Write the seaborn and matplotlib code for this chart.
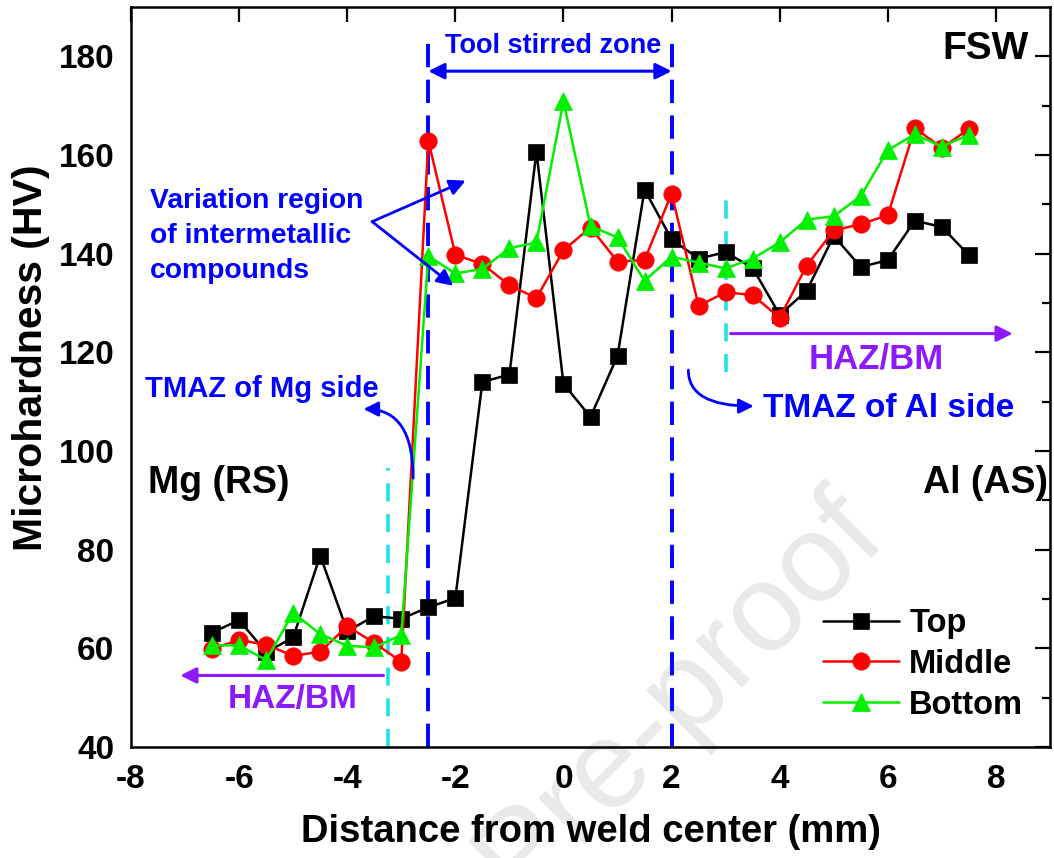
import matplotlib
matplotlib.use("Agg")
import matplotlib.pyplot as plt
import seaborn as sns
import numpy as np
import pandas as pd

# ---- data ----
distance = [-6.5, -6, -5.5, -5, -4.5, -4, -3.5, -3, -2.5, -2, -1.5, -1, -0.5, 0,
            0.5, 1, 1.5, 2, 2.5, 3, 3.5, 4, 4.5, 5, 5.5, 6, 6.5, 7, 7.5]

hv_top = [63.2, 65.7, 59.2, 62.2, 78.8, 63.5, 66.5, 66.0, 68.3, 70.2, 114.0, 115.5, 160.7, 113.6,
          106.9, 119.3, 153.0, 142.9, 139.0, 140.3, 137.1, 127.6, 132.5, 143.6, 137.3, 138.7, 146.7, 145.4, 139.7]

hv_middle = [59.9, 61.7, 60.7, 58.5, 59.3, 64.5, 61.1, 57.3, 162.9, 139.8, 137.9, 133.6, 131.0, 140.7,
             145.3, 138.4, 138.7, 152.2, 129.4, 132.2, 131.6, 127.0, 137.6, 144.7, 146.0, 147.8, 165.5, 161.4, 165.3]

hv_bottom = [60.6, 60.6, 57.6, 67.2, 62.9, 60.5, 60.2, 62.7, 139.5, 136.0, 136.9, 141.1, 142.3, 170.9,
             145.6, 143.3, 134.5, 139.4, 138.2, 137.0, 139.0, 142.3, 146.9, 147.6, 151.7, 161.0, 164.2, 161.7, 164.1]

series_names = ["Top", "Middle", "Bottom"]
series_colors = {"Top": "black", "Middle": "#ff0000", "Bottom": "#00f000"}
series_markers = {"Top": "s", "Middle": "o", "Bottom": "^"}
series_msize = {"Top": 11.5, "Middle": 12.5, "Bottom": 13}

df = pd.DataFrame({
    "Distance": distance * 3,
    "HV": hv_top + hv_middle + hv_bottom,
    "Position": sum([[n] * len(distance) for n in series_names], []),
})

# ---- style ----
sns.set_style("white")
plt.rcParams["font.family"] = ["Liberation Sans", "DejaVu Sans"]
plt.rcParams["font.weight"] = "bold"
plt.rcParams["axes.labelweight"] = "bold"
plt.rcParams["axes.unicode_minus"] = False
for k in ["text.color", "axes.labelcolor", "xtick.color", "ytick.color"]:
    plt.rcParams[k] = "black"

fig = plt.figure(figsize=(10.54, 8.58), dpi=100)
ax = fig.add_axes([0.1243, 0.1294, 0.9962 - 0.1243, 0.9918 - 0.1294])

for name in series_names:
    sub = df[df["Position"] == name]
    sns.lineplot(data=sub, x="Distance", y="HV", ax=ax, color=series_colors[name],
                 marker=series_markers[name], markersize=series_msize[name],
                 markeredgecolor=series_colors[name], markeredgewidth=0.5,
                 linewidth=1.8, label=name)

# zone boundaries
blue = "#0000ff"
ax.vlines([-2.5, 2.0], 40, 184, colors=blue, linewidth=2.8, linestyles=(0, (6, 3.2)), zorder=1)
ax.vlines([-3.25], 40, 96.5, colors="#22e0e8", linewidth=2.6, linestyles=(0, (5, 3.5)), zorder=1)
ax.vlines([3.0], 116, 153, colors="#22e0e8", linewidth=2.6, linestyles=(0, (5, 3.5)), zorder=1)

# annotations
ax.annotate("", xy=(2.0, 177), xytext=(-2.5, 177),
            arrowprops=dict(arrowstyle="<|-|>", color=blue, lw=2.2, mutation_scale=24,
                            shrinkA=0, shrinkB=0))
ax.text(-0.2, 182.2, "Tool stirred zone", color=blue, fontsize=19.5, ha="center", va="center")
ax.text(8.61, 181.5, "FSW", color="black", fontsize=28, ha="right", va="center")
ax.text(-7.69, 93.5, "Mg (RS)", color="black", fontsize=27, ha="left", va="center")
ax.text(8.96, 93.5, "Al (AS)", color="black", fontsize=27, ha="right", va="center")

ax.text(-7.65, 143.6, "Variation region\nof intermetallic\ncompounds", color=blue,
        fontsize=20.3, ha="left", va="center", linespacing=1.45)
for end in [(-1.81, 154.8), (-2.04, 133.5)]:
    ax.annotate("", xy=end, xytext=(-3.54, 146.5),
                arrowprops=dict(arrowstyle="-|>", color=blue, lw=2.0, mutation_scale=24,
                                shrinkA=0, shrinkB=0))

ax.text(-7.74, 112.6, "TMAZ of Mg side", color=blue, fontsize=21, ha="left", va="center")
ax.annotate("", xy=(-3.70, 108.5), xytext=(-2.78, 94.5),
            arrowprops=dict(arrowstyle="-|>", color=blue, lw=2.0, mutation_scale=22,
                            shrinkA=0, shrinkB=0,
                            connectionstyle="angle3,angleA=90,angleB=0"))

ax.text(3.70, 108.6, "TMAZ of Al side", color=blue, fontsize=24, ha="left", va="center")
ax.annotate("", xy=(3.52, 109.1), xytext=(2.31, 116.4),
            arrowprops=dict(arrowstyle="-|>", color=blue, lw=2.0, mutation_scale=22,
                            shrinkA=0, shrinkB=0,
                            connectionstyle="angle3,angleA=90,angleB=0"))

purple = "#8c1aff"
ax.annotate("", xy=(8.31, 123.8), xytext=(3.09, 123.8),
            arrowprops=dict(arrowstyle="-|>", color=purple, lw=2.2, mutation_scale=24,
                            shrinkA=0, shrinkB=0))
ax.text(5.78, 118.6, "HAZ/BM", color=purple, fontsize=25, ha="center", va="center")
ax.annotate("", xy=(-7.09, 54.5), xytext=(-3.33, 54.5),
            arrowprops=dict(arrowstyle="-|>", color=purple, lw=2.2, mutation_scale=24,
                            shrinkA=0, shrinkB=0))
ax.text(-5.0, 49.6, "HAZ/BM", color=purple, fontsize=24, ha="center", va="center")

# faint journal watermark
ax.text(0.645, 0.19, "Pre-proof", transform=fig.transFigure, fontsize=90,
        fontweight="normal", color="#e9e9e9", rotation=45, ha="center", va="center",
        zorder=0, clip_on=False)

# axes
ax.set_xlim(-8, 9)
ax.set_ylim(40, 190)
ax.set_xticks(np.arange(-8, 9, 2))
ax.set_xticks(np.arange(-7, 9, 2), minor=True)
ax.set_yticks(np.arange(40, 181, 20))
ax.set_yticks(np.arange(50, 190, 20), minor=True)
ax.tick_params(which="major", direction="in", length=11, width=1.6, labelsize=24,
               top=True, right=True, pad=12)
ax.tick_params(which="minor", direction="in", length=5.5, width=1.6, top=False, right=True)
for lab in ax.get_xticklabels() + ax.get_yticklabels():
    lab.set_fontweight("bold")
for sp in ax.spines.values():
    sp.set_linewidth(1.8)
    sp.set_color("black")

ax.set_xlabel("Distance from weld center (mm)", fontsize=27.5, fontweight="bold", labelpad=14)
ax.set_ylabel("Microhardness (HV)", fontsize=29.5, fontweight="bold", labelpad=6, y=0.526)

leg = ax.legend(loc="lower right", bbox_to_anchor=(0.985, 0.018), frameon=False,
                fontsize=23.5, handlelength=2.35, handletextpad=0.3, labelspacing=0.3,
                borderaxespad=0)
for t in leg.get_texts():
    t.set_fontweight("bold")

fig.savefig("out.png", dpi=100)
